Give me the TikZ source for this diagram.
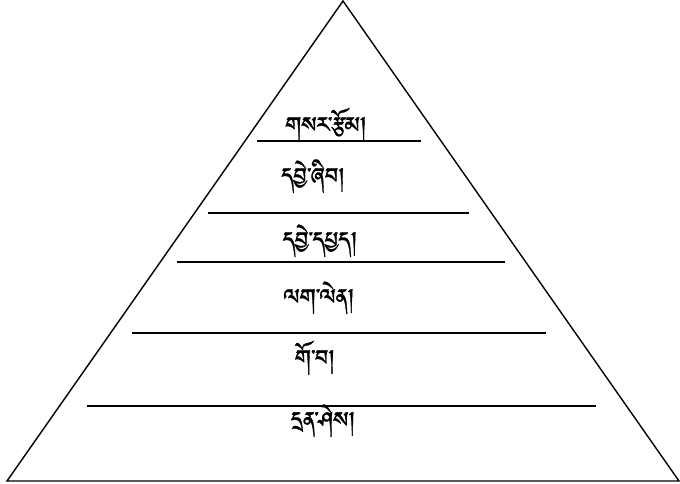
\documentclass[tikz,border=0pt]{standalone}
\usepackage{fontspec}
\newfontfamily\tib[Script=Tibetan,FakeBold=1.2]{Jomolhari}
\tikzset{
  edge/.style={line width=1.4pt, line join=miter},
  layer/.style={line width=1.4pt},
  lbl/.style={font=\tib\fontsize{28}{32}\selectfont, inner sep=0pt, anchor=base}
}
\begin{document}
\begin{tikzpicture}[x=1pt,y=-1pt]
\useasboundingbox (0,0) rectangle (680,484);
\coordinate (apex) at (343,1);
\coordinate (bl) at (7,481);
\coordinate (br) at (679,481);
\draw[edge] (apex) -- (bl) -- (br) -- cycle;
\coordinate (a1) at (257,141); \coordinate (b1) at (421,141);
\coordinate (a2) at (208,213); \coordinate (b2) at (469,213);
\coordinate (a3) at (177,262); \coordinate (b3) at (505,262);
\coordinate (a4) at (132,333); \coordinate (b4) at (546,333);
\coordinate (a5) at (87,406);  \coordinate (b5) at (596,406);
\foreach \i in {1,...,5} \draw[layer] (a\i) -- (b\i);
\node[lbl] (t1) at (326,138) {གསར་རྩོམ།};
\node[lbl] (t2) at (313,189) {དབྱེ་ཞིབ།};
\node[lbl] (t3) at (320,253) {དབྱེ་དཔྱད།};
\node[lbl] (t4) at (319,310) {ལག་ལེན།};
\node[lbl] (t5) at (315,371) {གོ་བ།};
\node[lbl] (t6) at (323,433) {དྲན་ཤེས།};
\end{tikzpicture}
\end{document}
